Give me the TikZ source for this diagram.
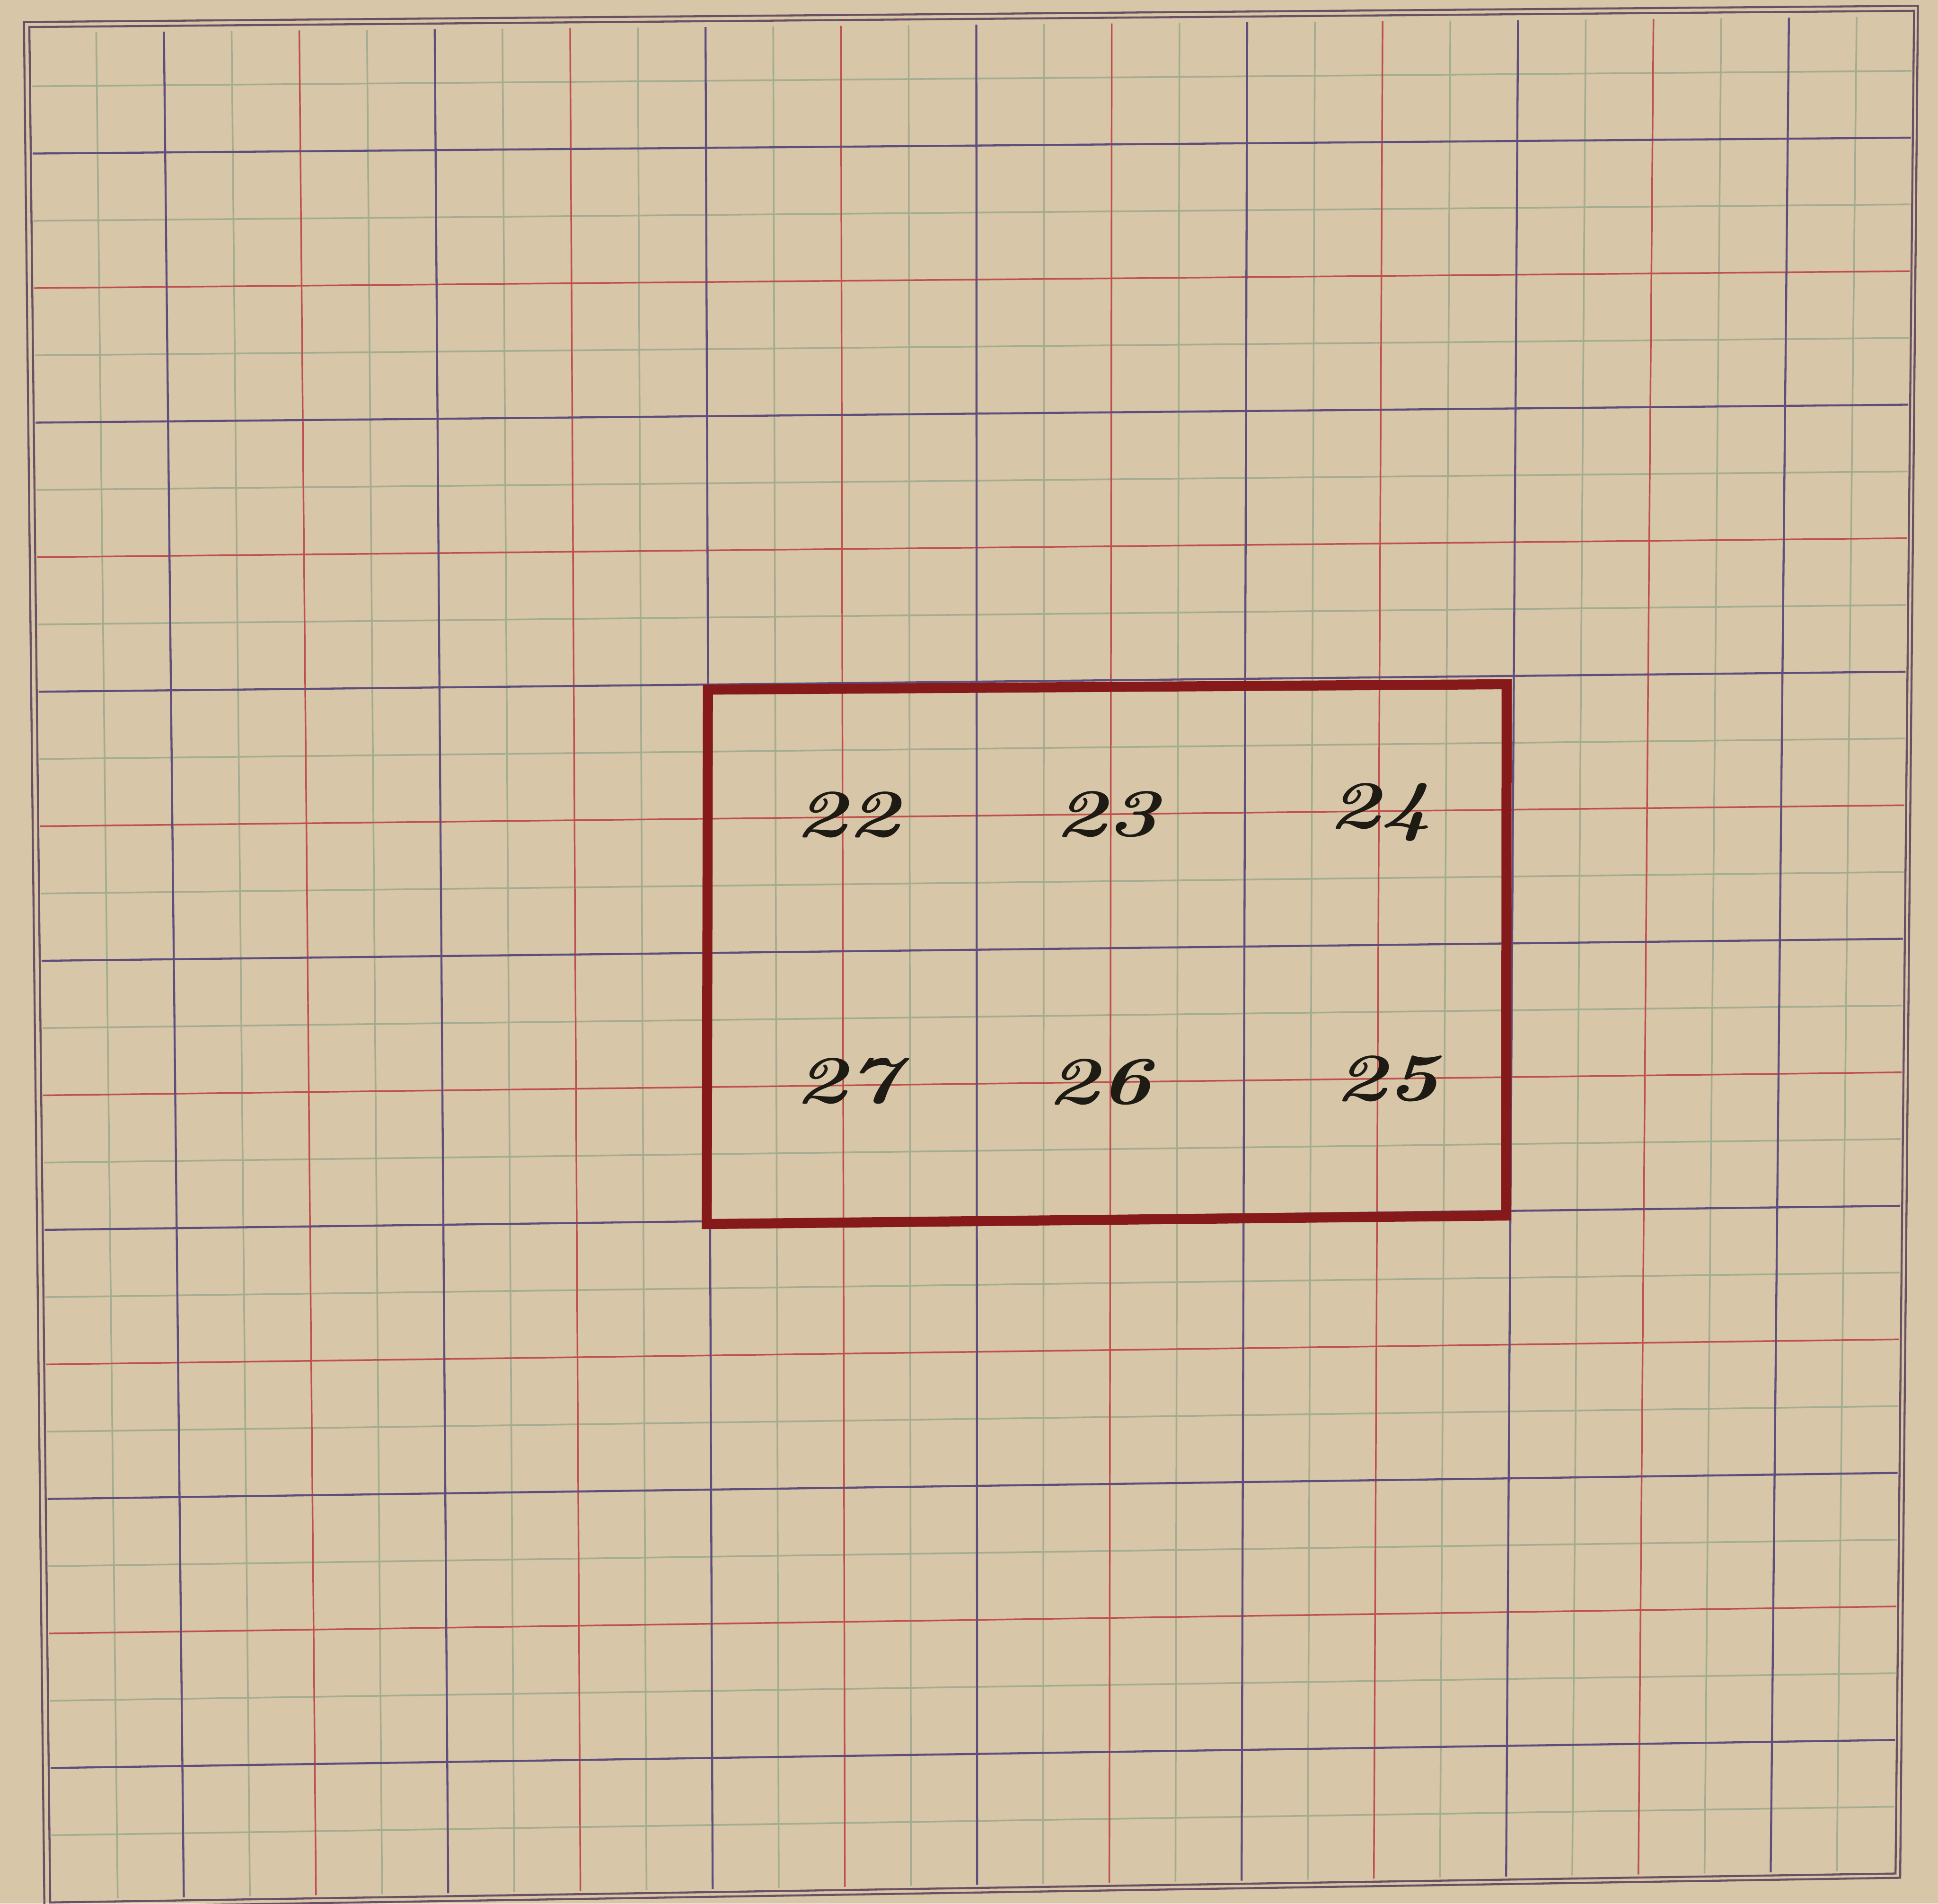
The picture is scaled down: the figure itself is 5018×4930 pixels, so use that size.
\documentclass[tikz,border=0pt]{standalone}
\definecolor{paper}{HTML}{D7C6A8}
\definecolor{gridgreen}{HTML}{A5AD90}
\definecolor{gridred}{HTML}{C0504C}
\definecolor{gridpurple}{HTML}{5F4E7C}
\definecolor{framecol}{HTML}{6A5062}
\definecolor{boxred}{HTML}{861A1A}
\definecolor{ink}{HTML}{1E1A14}
\newcommand\gridV[2]{%
  \pgfmathsetmacro\xa{75.7+175.17*#1}%
  \pgfmathsetmacro\xb{131.3+171.33*#1}%
  \pgfmathsetmacro\yt{85-0.008607*(\xa-76)}%
  \pgfmathsetmacro\yb{4919-0.015697*(\xb-130)}%
  \pgfmathsetmacro\xt{\xa+(\yt-233)/4497*(\xb-\xa)}%
  \pgfmathsetmacro\xbb{\xa+(\yb-233)/4497*(\xb-\xa)}%
  \draw[#2] (\xt,\yt) -- (\xbb,\yb);%
}
\newcommand\gridH[2]{%
  \pgfmathsetmacro\yL{48+174.2*#1}%
  \pgfmathsetmacro\yR{12+172.92*#1}%
  \pgfmathsetmacro\xl{81+0.011118*(\yL-70)}%
  \pgfmathsetmacro\xr{4951-0.00995*(\yR-28)}%
  \pgfmathsetmacro\yl{\yL+(\xl-233)/4552*(\yR-\yL)}%
  \pgfmathsetmacro\yr{\yL+(\xr-233)/4552*(\yR-\yL)}%
  \draw[#2] (\xl,\yl) -- (\xr,\yr);%
}
\begin{document}
\begin{tikzpicture}[x=0.01cm,y=-0.01cm,
  greenline/.style={draw=gridgreen,line width=1.25pt},
  redline/.style={draw=gridred,line width=1.2pt},
  purpleline/.style={draw=gridpurple,line width=1.5pt},
  frameline/.style={draw=framecol,line width=1.5pt,line join=miter},
  boxline/.style={draw=boxred,line width=7.4pt,line join=miter},
  num/.style={text=ink,font=\fontsize{50}{60}\selectfont\bfseries\itshape,inner sep=0pt}]
\useasboundingbox (0,0) rectangle (5018,4930);
\fill[paper] (0,0) rectangle (5018,4930);
% green quarter lines
\foreach \k in {1,3,...,27} {\gridV{\k}{greenline}}
\foreach \j in {1,3,...,27} {\gridH{\j}{greenline}}
% red half lines
\foreach \k in {4,8,...,24} {\gridV{\k}{redline}}
\foreach \j in {4,8,...,24} {\gridH{\j}{redline}}
% purple major lines
\foreach \k in {2,6,...,26} {\gridV{\k}{purpleline}}
\foreach \j in {2,6,...,26} {\gridH{\j}{purpleline}}
% double frame
\draw[frameline] (62,57) -- (4966,15) -- (4920,4863) -- (115,4940) -- cycle;
\draw[frameline] (76,70) -- (4956,28) -- (4908,4852) -- (130,4927) -- cycle;
% red box
\draw[boxline] (1833,1786) -- (3901,1772) -- (3900,3148) -- (1830,3170) -- cycle;
% numbers
\node[num] (n22) at (2193,2110) {\scalebox{1.3}[1]{22}};
\node[num] (n23) at (2865,2109) {\scalebox{1.3}[1]{23}};
\node[num] (n24) at (3573,2104) {\scalebox{1.3}[1]{24}};
\node[num] (n27) at (2193,2800) {\scalebox{1.3}[1]{27}};
\node[num] (n26) at (2846,2802) {\scalebox{1.3}[1]{26}};
\node[num] (n25) at (3590,2794) {\scalebox{1.3}[1]{25}};
\end{tikzpicture}
\end{document}
